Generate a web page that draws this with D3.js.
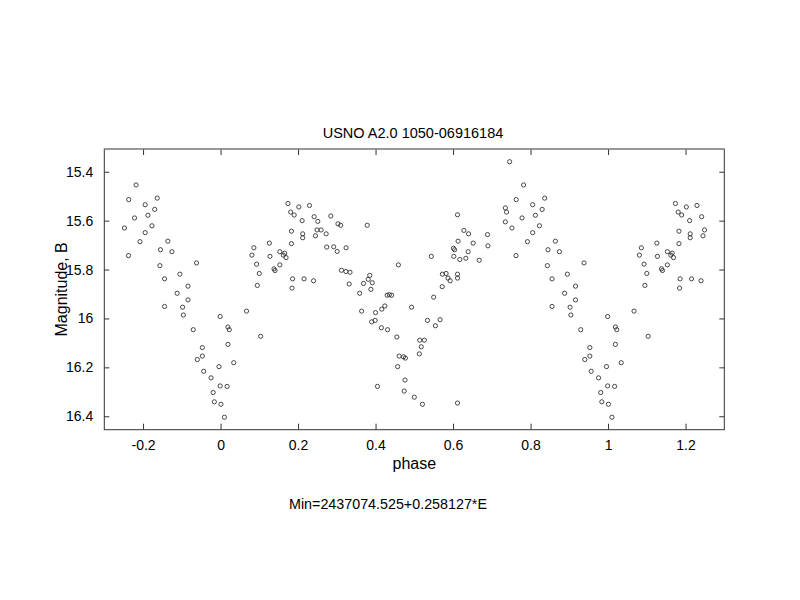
<!DOCTYPE html>
<html>
<head>
<meta charset="utf-8">
<script src="https://cdn.jsdelivr.net/npm/d3@7"></script>
<style>
  html, body { margin: 0; padding: 0; background: #fff; }
  svg text { font-family: "Liberation Sans", Arial, sans-serif; fill: #000; }
</style>
</head>
<body>
<svg id="chart" width="800" height="600"></svg>
<script>
// ── Data (phase 0..1) ───────────────────────────────────────────────────────

const title = "USNO A2.0 1050-06916184";
const footer = "Min=2437074.525+0.258127*E";
const xLabel = "phase";
const yLabel = "Magnitude, B";

const phase = [
  0.001, 0.010, 0.017, 0.019, 0.019, 0.0225, 0.034, 0.067, 0.081, 0.086,
  0.093, 0.095, 0.100, 0.1035, 0.126, 0.1275, 0.138, 0.1405, 0.153, 0.153,
  0.162, 0.1655, 0.169, 0.174, 0.181, 0.183, 0.183, 0.1845, 0.186, 0.190,
  0.202, 0.2105, 0.212, 0.212, 0.2155, 0.2295, 0.240, 0.2415, 0.245, 0.249,
  0.251, 0.2595, 0.2725, 0.274, 0.2845, 0.292, 0.301, 0.303, 0.310, 0.312,
  0.3235, 0.324, 0.332, 0.334, 0.359, 0.364, 0.369, 0.3785, 0.381, 0.385,
  0.388, 0.390, 0.3915, 0.399, 0.400, 0.405, 0.415, 0.416, 0.424, 0.430,
  0.431, 0.4355, 0.4415, 0.455, 0.457, 0.459, 0.461, 0.472, 0.474, 0.476,
  0.477, 0.493, 0.500, 0.513, 0.514, 0.518, 0.521, 0.526, 0.534, 0.544,
  0.550, 0.5545, 0.5665, 0.572, 0.5725, 0.582, 0.587, 0.5925, 0.601, 0.602,
  0.604, 0.6115, 0.6115, 0.6115, 0.6115, 0.613, 0.6175, 0.628, 0.633, 0.639,
  0.640, 0.652, 0.6675, 0.689, 0.690, 0.735, 0.735, 0.738, 0.746, 0.752,
  0.7625, 0.763, 0.778, 0.782, 0.792, 0.8055, 0.8055, 0.8125, 0.823, 0.830,
  0.8365, 0.8435, 0.845, 0.8555, 0.8555, 0.864, 0.8745, 0.888, 0.895, 0.902,
  0.904, 0.916, 0.916, 0.9295, 0.938, 0.940, 0.953, 0.953, 0.9565, 0.9755,
  0.981, 0.984, 0.996, 0.999, 0.999
];

const magnitude = [
  16.351, 16.404, 16.278, 16.035, 16.106, 16.046, 16.181, 15.970, 15.741, 15.711,
  15.778, 15.865, 15.816, 16.073, 15.692, 15.746, 15.797, 15.804, 15.727, 15.781,
  15.741, 15.733, 15.751, 15.530, 15.565, 15.643, 15.694, 15.876, 15.838, 15.577,
  15.544, 15.600, 15.654, 15.670, 15.838, 15.538, 15.846, 15.584, 15.662, 15.638,
  15.603, 15.638, 15.654, 15.708, 15.581, 15.707, 15.726, 15.613, 15.619, 15.803,
  15.808, 15.711, 15.859, 15.811, 15.897, 15.970, 15.857, 15.619, 15.840, 15.824,
  15.881, 16.014, 15.854, 16.008, 15.976, 16.278, 16.038, 15.962, 15.949, 15.905,
  16.046, 15.903, 15.905, 16.076, 16.197, 15.781, 16.154, 16.157, 16.297, 16.252,
  16.162, 15.954, 16.322, 16.145, 16.089, 16.116, 16.351, 16.089, 16.008, 15.746,
  15.913, 16.030, 16.005, 15.870, 15.819, 15.816, 15.835, 15.846, 15.713, 15.746,
  15.719, 15.576, 15.819, 15.835, 16.346, 15.684, 15.759, 15.640, 15.754, 15.727,
  15.654, 15.692, 15.762, 15.657, 15.703, 15.548, 15.605, 15.565, 15.359, 15.630,
  15.743, 15.514, 15.589, 15.454, 15.686, 15.535, 15.649, 15.578, 15.621, 15.554,
  15.508, 15.784, 15.719, 15.838, 15.951, 15.684, 15.727, 15.897, 15.819, 15.954,
  15.986, 15.868, 15.924, 16.046, 15.773, 16.168, 16.119, 16.154, 16.216, 16.243,
  16.303, 16.341, 16.197, 15.992, 16.276
];

const xTicks = [-0.2, 0, 0.2, 0.4, 0.6, 0.8, 1, 1.2];
const yTicks = [15.4, 15.6, 15.8, 16, 16.2, 16.4];

// ── Layout ──────────────────────────────────────────────────────────────────

const frame = { left: 104.3, right: 724.3, top: 149, bottom: 429.7 };

const x = d3.scaleLinear().domain([-0.3, 1.3]).range([frame.left, frame.right]);
const y = d3.scaleLinear().domain([15.307, 16.455]).range([frame.top, frame.bottom]);

const svg = d3.select("#chart");

// fold the phase curve so -0.25..1.25 is shown
const points = [];
phase.forEach((p, i) => {
  const m = magnitude[i];
  points.push({ p, m });
  if (p >= 0.75) points.push({ p: p - 1, m });
  if (p < 0.25) points.push({ p: p + 1, m });
});

// ── Frame & axes ────────────────────────────────────────────────────────────

const fmt = (d) => String(d);

svg.append("g")
  .attr("transform", `translate(0,${frame.bottom})`)
  .call(d3.axisBottom(x).tickValues(xTicks).tickSize(-6).tickPadding(10).tickFormat(fmt))
  .call((g) => g.select(".domain").remove())
  .call((g) => g.selectAll("line").attr("stroke", "#333"))
  .call((g) => g.selectAll("text").attr("font-size", 14).attr("font-family", "Liberation Sans, Arial, sans-serif"));

svg.append("g")
  .attr("transform", `translate(0,${frame.top})`)
  .call(d3.axisTop(x).tickValues(xTicks).tickSize(-6).tickFormat(""))
  .call((g) => g.select(".domain").remove())
  .call((g) => g.selectAll("line").attr("stroke", "#333"));

svg.append("g")
  .attr("transform", `translate(${frame.left},0)`)
  .call(d3.axisLeft(y).tickValues(yTicks).tickSize(-5).tickPadding(11).tickFormat(fmt))
  .call((g) => g.select(".domain").remove())
  .call((g) => g.selectAll("line").attr("stroke", "#333"))
  .call((g) => g.selectAll("text").attr("font-size", 14).attr("font-family", "Liberation Sans, Arial, sans-serif"));

svg.append("g")
  .attr("transform", `translate(${frame.right},0)`)
  .call(d3.axisRight(y).tickValues(yTicks).tickSize(-5).tickFormat(""))
  .call((g) => g.select(".domain").remove())
  .call((g) => g.selectAll("line").attr("stroke", "#333"));

svg.append("rect")
  .attr("x", frame.left)
  .attr("y", frame.top)
  .attr("width", frame.right - frame.left)
  .attr("height", frame.bottom - frame.top)
  .attr("fill", "none")
  .attr("stroke", "#333")
  .attr("stroke-width", 1);

// top border is lighter in the original
svg.append("line")
  .attr("x1", frame.left).attr("x2", frame.right)
  .attr("y1", frame.top).attr("y2", frame.top)
  .attr("stroke", "#999");

// ── Points ──────────────────────────────────────────────────────────────────

svg.append("g")
  .selectAll("circle")
  .data(points)
  .join("circle")
  .attr("cx", (d) => x(d.p))
  .attr("cy", (d) => y(d.m))
  .attr("r", 2.1)
  .attr("fill", "none")
  .attr("stroke", "#333")
  .attr("stroke-width", 0.9);

// ── Texts ───────────────────────────────────────────────────────────────────

svg.append("text")
  .attr("x", 413).attr("y", 137.5)
  .attr("text-anchor", "middle")
  .attr("font-size", 14.5)
  .text(title);

svg.append("text")
  .attr("x", (frame.left + frame.right) / 2).attr("y", 469)
  .attr("text-anchor", "middle")
  .attr("font-size", 16)
  .text(xLabel);

svg.append("text")
  .attr("transform", `translate(67,${(frame.top + frame.bottom) / 2}) rotate(-90)`)
  .attr("text-anchor", "middle")
  .attr("font-size", 16)
  .text(yLabel);

svg.append("text")
  .attr("x", 289).attr("y", 508.5)
  .attr("font-size", 14.3)
  .text(footer);
</script>
</body>
</html>
